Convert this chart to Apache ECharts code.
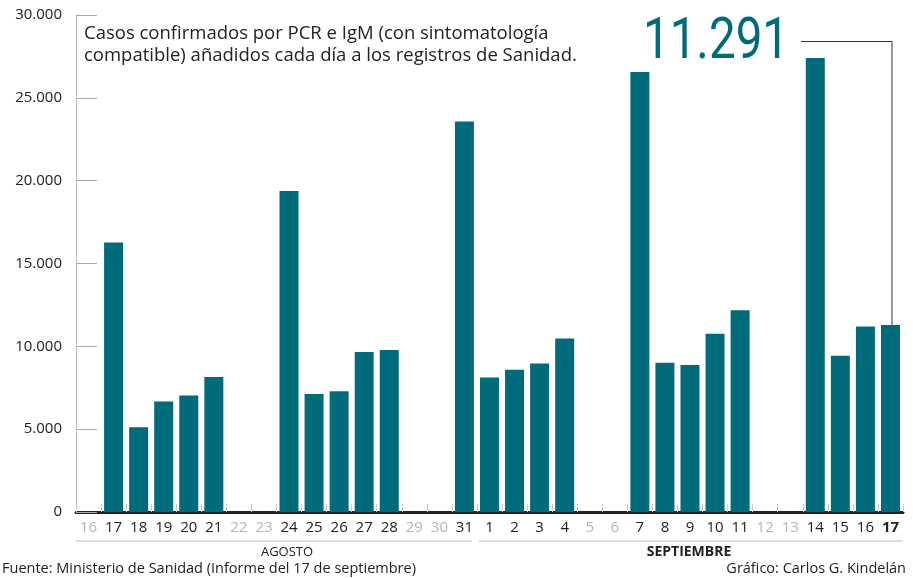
<!DOCTYPE html>
<html>
<head>
<meta charset="utf-8">
<script src="https://cdn.jsdelivr.net/npm/echarts@6/dist/echarts.min.js"></script>
<style>
  * { margin: 0; padding: 0; }
  body { background: #fff; }
</style>
</head>
<body>
<div id="main" style="width: 913px;height: 578px;"></div>
<script>
  // días del 16 de agosto al 17 de septiembre
  const dias = ['16','17','18','19','20','21','22','23','24','25','26','27','28','29','30','31',
    '1','2','3','4','5','6','7','8','9','10','11','12','13','14','15','16','17'];
  // casos notificados cada día (null = fin de semana, sin informe)
  const casos = [null, 16269, 5114, 6671, 7039, 8148, null, null, 19382, 7117, 7296, 9658, 9779, null, null, 23572,
    8115, 8581, 8959, 10476, null, null, 26560, 9006, 8866, 10764, 12183, null, null, 27404, 9437, 11193, 11291];
  const yTicks = [0, 5000, 10000, 15000, 20000, 25000, 30000];
  const meses = [{name: 'AGOSTO', from: 0, to: 15}, {name: 'SEPTIEMBRE', from: 16, to: 32}];

  const teal = '#006b7b';
  const font = 'Open Sans';
  const fmt = v => String(v).replace(/\B(?=(\d{3})+(?!\d))/g, '.');

  const myChart = echarts.init(document.getElementById('main'));
  myChart.setOption({
    animation: false,
    grid: { left: 76, right: 10, top: 15, bottom: 66 },
    xAxis: {
      type: 'category',
      data: dias,
      axisLine: { lineStyle: { color: '#222', width: 3 } },
      axisTick: { show: true, inside: true, length: 8, lineStyle: { color: '#ccc' } },
      axisLabel: {
        margin: 8,
        interval: 0,
        formatter: function (v, i) {
          if (i === dias.length - 1) return '{b|' + v + '}';
          return casos[i] == null ? '{w|' + v + '}' : '{n|' + v + '}';
        },
        rich: {
          n: { fontFamily: font, fontSize: 15, color: '#222' },
          w: { fontFamily: font, fontSize: 15, color: '#b5b5b5' },
          b: { fontFamily: font, fontSize: 15, color: '#222', fontWeight: 'bold' }
        }
      }
    },
    yAxis: {
      type: 'value',
      min: yTicks[0],
      max: yTicks[yTicks.length - 1],
      interval: 5000,
      splitLine: { show: false },
      axisLine: { show: true, lineStyle: { color: '#bbb' } },
      axisTick: { show: true, inside: true, length: 21, lineStyle: { color: '#aaa' } },
      axisLabel: { margin: 14, fontFamily: font, fontSize: 15, color: '#222', formatter: fmt }
    },
    series: [{
      type: 'bar',
      data: casos,
      barWidth: 19,
      itemStyle: { color: teal }
    }]
  });

  // anotaciones: líneas de los meses y conector de la última cifra
  const g = [];
  meses.forEach(function (m, k) {
    const x0 = myChart.convertToPixel({ xAxisIndex: 0 }, m.from) - 12.5 + (k ? 2 : 0);
    const x1 = myChart.convertToPixel({ xAxisIndex: 0 }, m.to) + 12.5 - (k ? 0 : 5);
    g.push({ type: 'line', shape: { x1: x0, y1: 541, x2: x1, y2: 541 }, style: { stroke: '#bbb', lineWidth: 1 } });
  });
  g.push({ type: 'text', x: 287, y: 552, style: { text: 'AGOSTO', fontFamily: font, fontSize: 13, fill: '#222', align: 'center', verticalAlign: 'middle' } });
  g.push({ type: 'text', x: 689, y: 552, style: { text: 'SEPTIEMBRE', fontFamily: font, fontSize: 14, fontWeight: 'bold', fill: '#222', align: 'center', verticalAlign: 'middle' } });
  g.push({ type: 'text', x: 2, y: 569, style: { text: 'Fuente: Ministerio de Sanidad (Informe del 17 de septiembre)', fontFamily: font, fontSize: 14.5, fill: '#222', verticalAlign: 'middle' } });
  g.push({ type: 'text', x: 906, y: 569, style: { text: 'Gráfico: Carlos G. Kindelán', fontFamily: font, fontSize: 14.5, fill: '#222', align: 'right', verticalAlign: 'middle' } });
  g.push({ type: 'text', x: 84, y: 23, style: { text: 'Casos confirmados por PCR e IgM (con sintomatología\ncompatible) añadidos cada día a los registros de Sanidad.', fontFamily: font, fontSize: 18.5, lineHeight: 22, fill: '#222' } });

  const last = casos.length - 1;
  const barTop = myChart.convertToPixel({ seriesIndex: 0 }, [last, casos[last]]);
  g.push({ type: 'text', x: 716, y: 43, scaleX: 0.82, style: { text: fmt(casos[last]), fontFamily: 'Roboto', fontWeight: 400, fontSize: 58, fill: teal, align: 'center', verticalAlign: 'middle' } });
  g.push({ type: 'polyline', shape: { points: [[801, 41.5], [barTop[0] + 1.5, 41.5], [barTop[0] + 1.5, barTop[1]]] }, style: { stroke: '#333', lineWidth: 1, fill: null } });

  myChart.setOption({ graphic: g });
</script>
</body>
</html>
